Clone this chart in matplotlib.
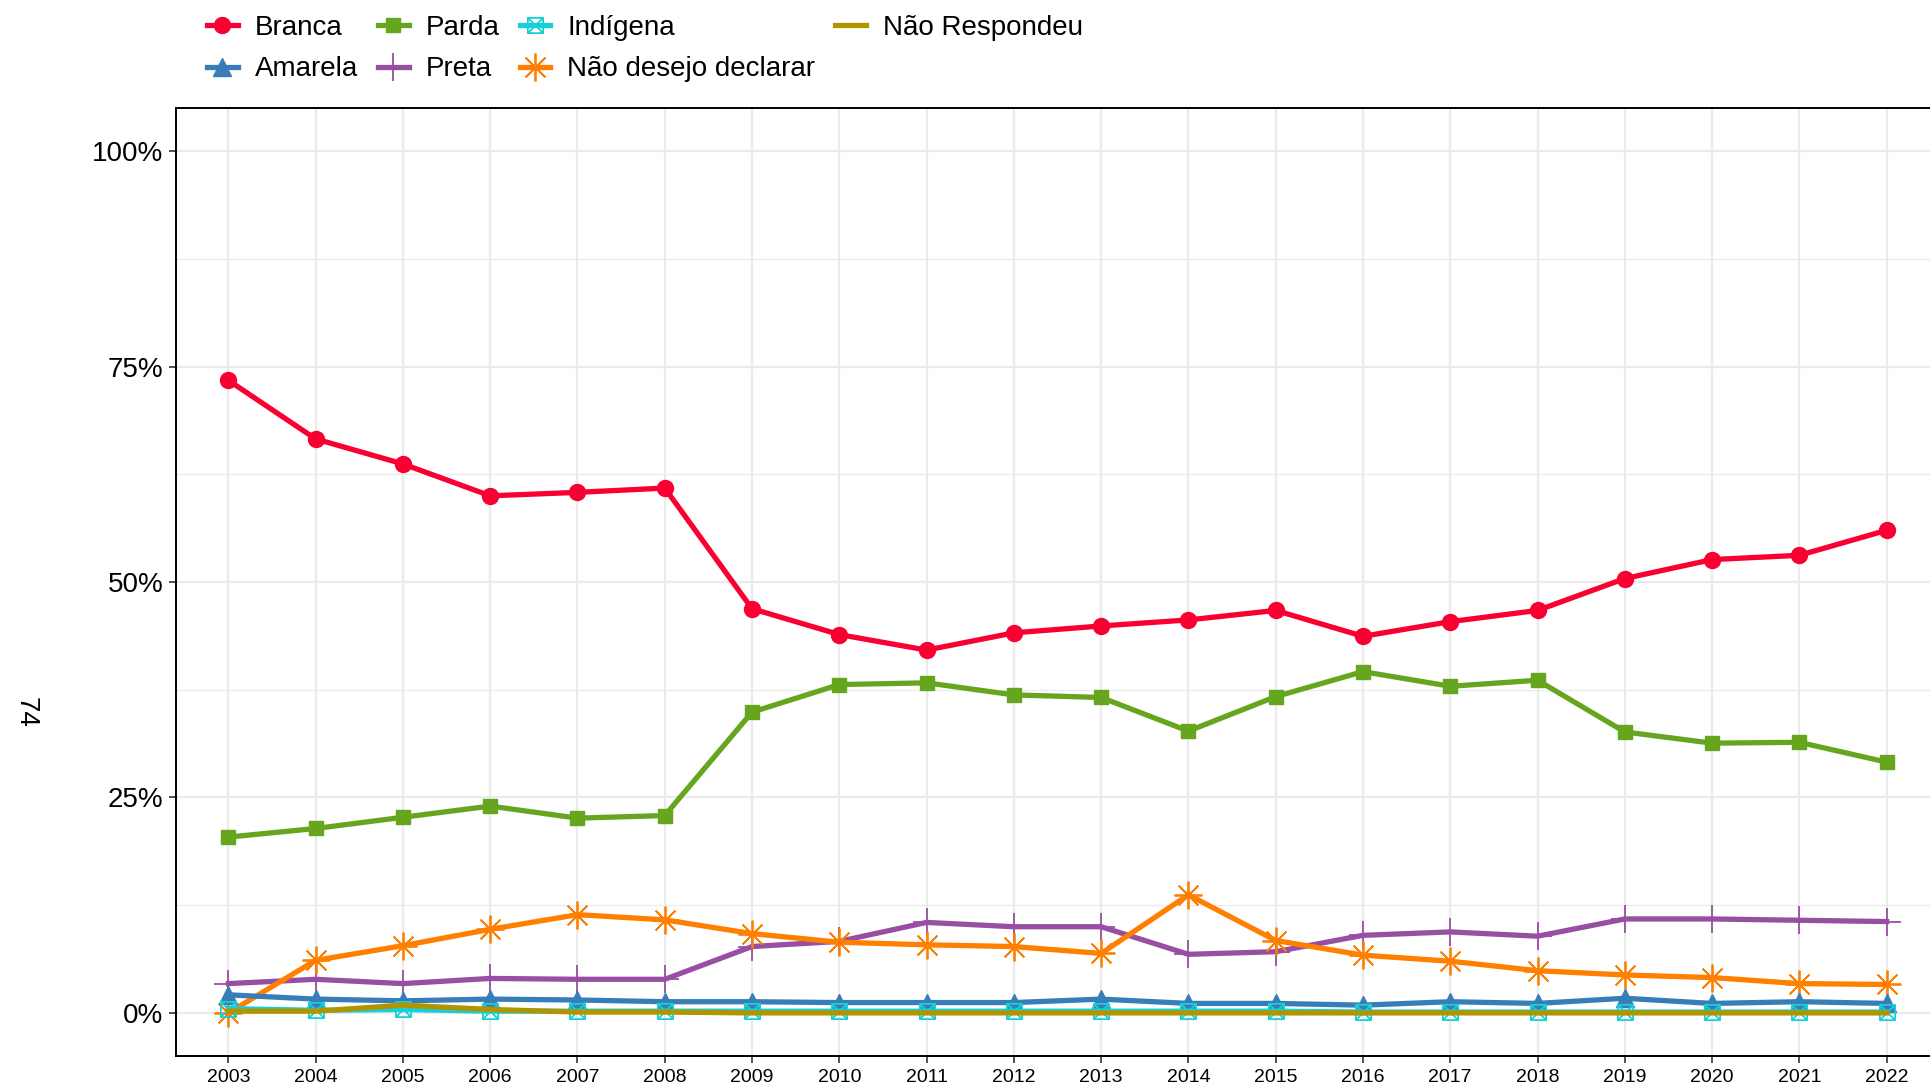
import numpy as np
import matplotlib
matplotlib.use("Agg")
import matplotlib.pyplot as plt
from matplotlib.path import Path
from matplotlib.ticker import FuncFormatter, MultipleLocator

plt.rcParams["font.family"] = ["Liberation Sans", "DejaVu Sans"]

# ── Data (share per year, %) ────────────────────────────────────────────────
years = list(range(2003, 2023))

branca = [73.4, 66.6, 63.7, 60.0, 60.4, 60.9, 46.9, 43.9, 42.1, 44.1,
          44.9, 45.6, 46.7, 43.7, 45.4, 46.7, 50.4, 52.6, 53.1, 56.0]
amarela = [2.1, 1.6, 1.4, 1.6, 1.5, 1.3, 1.3, 1.2, 1.2, 1.2,
           1.6, 1.1, 1.1, 0.9, 1.3, 1.1, 1.7, 1.1, 1.3, 1.1]
parda = [20.4, 21.4, 22.7, 24.0, 22.6, 22.9, 34.9, 38.1, 38.3, 36.9,
         36.6, 32.7, 36.7, 39.6, 37.9, 38.6, 32.6, 31.3, 31.4, 29.1]
preta = [3.4, 3.9, 3.4, 4.0, 3.9, 3.9, 7.7, 8.3, 10.5, 10.0,
         10.0, 6.8, 7.1, 9.0, 9.4, 8.9, 10.9, 10.9, 10.75, 10.6]
indigena = [0.5, 0.3, 0.4, 0.2, 0.2, 0.2, 0.2, 0.2, 0.2, 0.2,
            0.2, 0.2, 0.2, 0.1, 0.1, 0.1, 0.1, 0.1, 0.1, 0.1]
nao_desejo = [0.0, 6.1, 7.8, 9.7, 11.4, 10.8, 9.2, 8.2, 7.9, 7.7,
              6.9, 13.7, 8.4, 6.7, 6.0, 4.9, 4.4, 4.1, 3.4, 3.3]
nao_resp = [0.2, 0.2, 0.9, 0.4, 0.1, 0.1, 0.0, 0.0, 0.0, 0.0,
            0.0, 0.0, 0.0, 0.0, 0.0, 0.0, 0.0, 0.0, 0.0, 0.0]

# ── Style ───────────────────────────────────────────────────────────────────
RED, GREEN, CYAN = "#FA0032", "#66A61E", "#17CFD6"
BLUE, PURPLE, ORANGE, OLIVE = "#377EB8", "#984EA3", "#FF7F00", "#B09500"
GRID = "#EBEBEB"

# square with an x inside (ggplot shape 7)
box_x = Path([(-1, -1), (1, -1), (1, 1), (-1, 1), (-1, -1),
              (-1, -1), (1, 1), (-1, 1), (1, -1)],
             [Path.MOVETO, Path.LINETO, Path.LINETO, Path.LINETO, Path.CLOSEPOLY,
              Path.MOVETO, Path.LINETO, Path.MOVETO, Path.LINETO])

LW = 3.8
series = [
    ("Branca", branca, dict(color=RED, marker="o", ms=11.5)),
    ("Amarela", amarela, dict(color=BLUE, marker="^", ms=12.5)),
    ("Parda", parda, dict(color=GREEN, marker="s", ms=10.5)),
    ("Preta", preta, dict(color=PURPLE, marker="+", ms=20, mew=1.3)),
    ("Indígena", indigena, dict(color=CYAN, marker=box_x, ms=11, mew=1.3, mfc="none")),
    ("Não desejo declarar", nao_desejo, dict(color=ORANGE, marker=(8, 2, 0), ms=20, mew=1.3)),
    ("Não Respondeu", nao_resp, dict(color=OLIVE, marker="None")),
]

W, H = 1930, 1087
fig = plt.figure(figsize=(W / 100, H / 100), dpi=100)
ax = fig.add_axes([176 / W, 1 - 1056 / H, (1939 - 176) / W, (1056 - 108) / H])

# draw order: last in the list ends on top
draw_order = ["Branca", "Parda", "Preta", "Não desejo declarar", "Amarela", "Indígena", "Não Respondeu"]
handles = {}
for name, vals, kw in series:
    z = 3 + draw_order.index(name)
    ln, = ax.plot(years, vals, lw=LW, label=name, zorder=z, clip_on=False, **kw)
    handles[name] = ln

ax.set_xlim(2002.4, 2022.6)
ax.set_ylim(-5, 105)
ax.set_xticks(years)
ax.set_xticklabels([str(y) for y in years], fontsize=14)
ax.yaxis.set_major_locator(MultipleLocator(25))
ax.yaxis.set_minor_locator(MultipleLocator(12.5))
ax.yaxis.set_major_formatter(FuncFormatter(lambda v, p: f"{v:.0f}%"))
ax.tick_params(axis="y", labelsize=20, length=5, width=1.2, color="#333333", pad=4)
ax.tick_params(axis="x", length=5, width=1.2, color="#333333", pad=4)
ax.tick_params(axis="y", which="minor", length=0)

ax.grid(True, which="major", color=GRID, lw=1.6, zorder=0)
ax.grid(True, which="minor", axis="y", color=GRID, lw=0.9, zorder=0)
ax.set_axisbelow(True)
for sp in ax.spines.values():
    sp.set_linewidth(1.4)
    sp.set_color("black")

fig.text(26 / W, 1 - 712 / H, "74", rotation=-90, fontsize=20, ha="center", va="center")

leg = fig.legend([handles[s[0]] for s in series], [s[0] for s in series],
                 loc="upper left", bbox_to_anchor=(207 / W, 1 - 15 / H),
                 ncol=4, frameon=False, fontsize=20, handlelength=1.1,
                 handletextpad=0.62, columnspacing=0.72, labelspacing=0.55,
                 borderpad=0, borderaxespad=0, markerscale=1.0)

fig.savefig("out.png", dpi=100)
